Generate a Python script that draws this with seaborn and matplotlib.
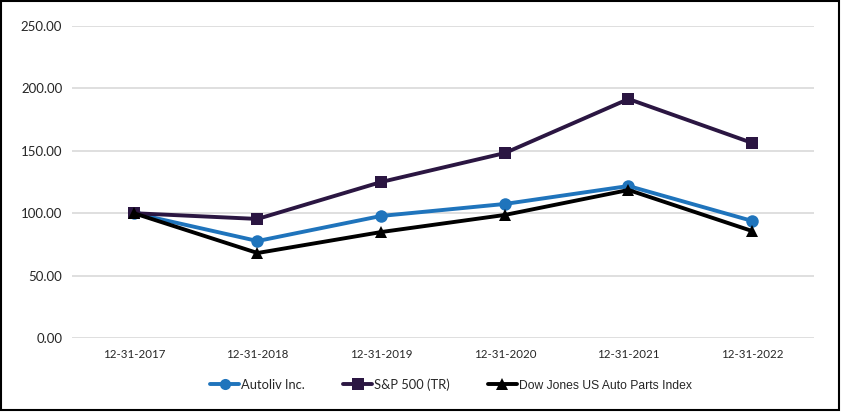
import matplotlib
matplotlib.use("Agg")
import matplotlib.pyplot as plt
import seaborn as sns
import pandas as pd
from matplotlib.patches import Rectangle
from matplotlib.lines import Line2D

dates = ["12-31-2017", "12-31-2018", "12-31-2019", "12-31-2020", "12-31-2021", "12-31-2022"]
autoliv = [100.0, 77.7, 97.8, 107.4, 121.8, 93.8]
sp500 = [100.0, 95.4, 125.0, 148.2, 191.5, 156.3]
dowjones = [100.0, 68.1, 84.9, 98.6, 118.6, 85.7]
series_names = ["Autoliv Inc.", "S&P 500 (TR)", "Dow Jones US Auto Parts Index"]
yticks = [0, 50, 100, 150, 200, 250]

rows = []
for name, vals in zip(series_names, [autoliv, sp500, dowjones]):
    for i, (d, v) in enumerate(zip(dates, vals)):
        rows.append({"pos": i, "date": d, "value": v, "series": name})
df = pd.DataFrame(rows)

sns.set_theme(style="white")
plt.rcParams['font.family'] = ['Lato', 'DejaVu Sans']

W, H = 845, 417
fig = plt.figure(figsize=(W / 100, H / 100), dpi=100)
ax = fig.add_axes([72 / W, 1 - 338 / H, (814 - 72) / W, (338 - 26) / H])

colors = {"Autoliv Inc.": "#1F74BC", "S&P 500 (TR)": "#2B1642", "Dow Jones US Auto Parts Index": "#000000"}
markers = {"Autoliv Inc.": "o", "S&P 500 (TR)": "s", "Dow Jones US Auto Parts Index": "^"}

sns.lineplot(data=df, x="pos", y="value", hue="series", style="series",
             palette=colors, markers=markers, dashes=False, linewidth=2.8,
             markersize=9, markeredgewidth=0, ax=ax, legend=False, zorder=3,
             hue_order=series_names, style_order=series_names)

ax.set_xlim(-0.5, 5.5)
ax.set_ylim(0, 250)
ax.set_yticks(yticks)
ax.set_yticklabels([f"{v:.2f}" for v in yticks], fontsize=9.5, color="#262626")
ax.set_xticks(range(len(dates)))
ax.set_xticklabels(dates, fontsize=8.3, color="#262626")
ax.set_xlabel("")
ax.set_ylabel("")
ax.grid(axis="y", color="#D9D9D9", linewidth=1.2, zorder=0)
for s in ax.spines.values():
    s.set_visible(False)
ax.tick_params(axis="x", length=0, pad=8)
ax.tick_params(axis="y", length=0, pad=7)

handles = [Line2D([], [], color=colors[n], marker=markers[n], linewidth=2.8,
                  markersize=8, markeredgewidth=0) for n in series_names]
leg = fig.legend(handles, series_names, loc="center", bbox_to_anchor=(451 / W, 1 - 385 / H),
                 ncol=3, frameon=False, fontsize=9.3, handlelength=2.2, handletextpad=0.15,
                 columnspacing=3.0)
for t in leg.get_texts():
    t.set_color("#262626")
leg.get_texts()[2].set_family(['Liberation Sans', 'DejaVu Sans'])
leg.get_texts()[2].set_fontsize(8.7)

fig.patches.append(Rectangle((1 / W, 1 - 410 / H), 838 / W, 409 / H, transform=fig.transFigure,
                             fill=False, edgecolor="black", linewidth=1.5))

fig.savefig("out.png", dpi=100)
